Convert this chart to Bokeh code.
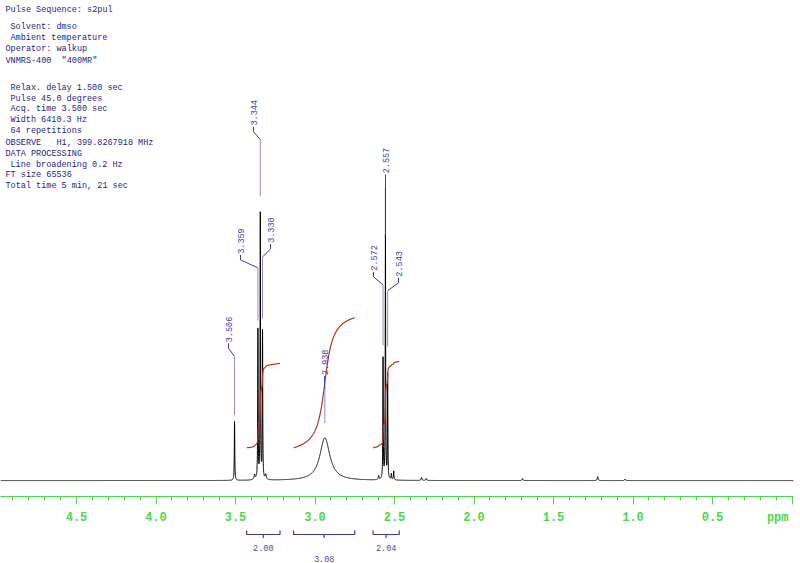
import numpy as np
from bokeh.plotting import figure
from bokeh.models import Range1d, FixedTicker, PrintfTickFormatter, LinearAxis
from bokeh.layouts import column
from bokeh.core.properties import value
from bokeh.embed import file_html
from bokeh.resources import INLINE

# ---------------- data ----------------
header_lines = [
    "Pulse Sequence: s2pul",
    "Solvent: dmso",
    "Ambient temperature",
    "Operator: walkup",
    "VNMRS-400\u00a0\u00a0\"400MR\"",
    "Relax. delay 1.500 sec",
    "Pulse 45.0 degrees",
    "Acq. time 3.500 sec",
    "Width 6410.3 Hz",
    "64 repetitions",
    "OBSERVE\u00a0\u00a0\u00a0H1, 399.8267918 MHz",
    "DATA PROCESSING",
    "Line broadening 0.2 Hz",
    "FT size 65536",
    "Total time 5 min, 21 sec",
]
header_indent = [0, 1, 1, 0, 0, 1, 1, 1, 1, 1, 0, 0, 1, 0, 0]

# peak list: position (ppm), height (arbitrary units), half width (ppm)
peak_ppm = [3.506, 3.380, 3.359, 3.344, 3.330, 3.310, 2.938, 2.600,
            2.572, 2.557, 2.543, 2.520, 2.505, 2.330, 2.300, 1.695, 1.222, 1.050]
peak_height = [60, 5, 150, 270, 150, 5, 43, 4,
               123, 245, 105, 6, 9, 3, 2, 2, 4, 1.5]
peak_hwhm = [0.0016, 0.004, 0.0015, 0.0015, 0.0015, 0.004, 0.038, 0.003,
             0.0015, 0.0015, 0.0015, 0.002, 0.002, 0.003, 0.003, 0.003, 0.003, 0.003]

label_texts = ["3.506", "3.359", "3.344", "3.330", "2.938", "2.572", "2.557", "2.543"]
label_peak_ppm = [3.506, 3.359, 3.344, 3.330, 2.938, 2.572, 2.557, 2.543]

integral_start = [3.43, 3.135, 2.635]
integral_end = [3.22, 2.75, 2.47]
integral_values = [2.00, 3.08, 2.04]

major_ticks = [4.5, 4.0, 3.5, 3.0, 2.5, 2.0, 1.5, 1.0, 0.5, 0.0]
minor_ticks = [round(0.1 * i, 1) for i in range(0, 50)]
unit_label_ppm = 0.09
unit_label = "ppm"

# ---------------- layout / style ----------------
W = 800
FRAME_RIGHT_PX = 793
FRAME_H = 499
AXIS_H = 28
H_TOP = FRAME_H + AXIS_H
H_BOT = 563 - H_TOP
PX_PER_PPM = 159.0
X_LEFT = 4.5 + 76 / PX_PER_PPM                       # ppm at page x = 0
X_RIGHT = X_LEFT - FRAME_RIGHT_PX / PX_PER_PPM        # ppm at frame right edge
Y_MAX = 483                                          # baseline at page y = 483
Y_MIN = Y_MAX - FRAME_H

GREEN = "#4cd64c"
NAVY = "#1e1e86"
BLUE = "#3b3bb5"
LAVENDER = "#8c8cd0"
RED = "#b8321f"
MONO = value("Liberation Mono")

def px_to_ppm(px):
    return X_LEFT - px / PX_PER_PPM

def px_to_y(py):
    return Y_MAX - py

# peak label layout (page px)
label_x_px = [228, 240, 253, 270, 324, 373, 385, 398]
label_cy_px = [331, 242, 113, 231, 364, 259, 161, 265]
leader_end = [66, 161, 286, 163, 58, 136, 245, 135]
leader_color = [LAVENDER, LAVENDER, LAVENDER, LAVENDER, LAVENDER, LAVENDER, NAVY, LAVENDER]

header_y_px = [10, 27, 38, 49, 61, 88, 99, 109, 120, 131, 143, 154, 165, 176, 187]

integral_base = 33
integral_scale = 42.5

# ---------------- spectrum ----------------
x = np.arange(X_RIGHT, X_LEFT, 0.0004)
spec = np.zeros_like(x)
for c, h, g in zip(peak_ppm, peak_height, peak_hwhm):
    spec += h * g * g / ((x - c) ** 2 + g * g)

p = figure(width=W, height=H_TOP, x_range=Range1d(X_LEFT, X_RIGHT),
           y_range=Range1d(Y_MIN, Y_MAX), output_backend="svg",
           toolbar_location=None, y_axis_type=None,
           min_border_left=0, min_border_right=W - FRAME_RIGHT_PX, min_border_top=0,
           min_border_bottom=AXIS_H)
p.xgrid.visible = False
p.ygrid.visible = False
p.outline_line_color = None
p.background_fill_color = "white"
p.border_fill_color = "white"

# axis 1: line and ticks only (labels not drawn)
ax = p.xaxis[0]
ax.ticker = FixedTicker(ticks=major_ticks, minor_ticks=minor_ticks)
ax.axis_line_color = GREEN
ax.major_tick_line_color = GREEN
ax.minor_tick_line_color = GREEN
ax.major_tick_in = 0
ax.major_tick_out = 8
ax.minor_tick_in = 0
ax.minor_tick_out = 4
ax.major_label_text_color = None
ax.major_label_text_font_size = "1px"
ax.major_label_standoff = 0

# axis 2: tick labels and unit
ax2 = LinearAxis(ticker=FixedTicker(ticks=major_ticks[:-1] + [unit_label_ppm], minor_ticks=[]),
                 formatter=PrintfTickFormatter(format="%.1f"),
                 major_label_overrides={unit_label_ppm: unit_label})
ax2.axis_line_color = None
ax2.major_tick_line_color = None
ax2.minor_tick_line_color = None
ax2.major_tick_in = 0
ax2.major_tick_out = 0
ax2.minor_tick_in = 0
ax2.minor_tick_out = 0
ax2.major_label_text_color = GREEN
ax2.major_label_text_font = "Liberation Mono"
ax2.major_label_text_font_size = "12px"
ax2.major_label_text_font_style = "bold"
ax2.major_label_standoff = 6
p.add_layout(ax2, "below")

# spectrum
p.line(x, spec, line_color="black", line_width=1)

# integrals
for s, e, v in zip(integral_start, integral_end, integral_values):
    m = (x <= s) & (x >= e)
    xs = x[m][::-1]
    ys = spec[m][::-1]
    cum = np.concatenate([[0.0], np.cumsum((ys[1:] + ys[:-1]) / 2 * np.abs(np.diff(xs)))])
    cum = cum / cum[-1] * v * integral_scale + integral_base
    p.line(xs, cum, line_color=RED, line_width=1.2)

# header text
hx = [px_to_ppm(5 + 5 * ind) for ind in header_indent]
hy = [px_to_y(py) for py in header_y_px]
p.text(x=hx, y=hy, text=header_lines, text_font=MONO, text_font_size="8.5px",
       text_color=NAVY, text_baseline="middle", text_align="left")

# peak labels + leaders
lx = [px_to_ppm(v) for v in label_x_px]
ly = [px_to_y(v) for v in label_cy_px]
p.text(x=lx, y=ly, text=label_texts, angle=np.pi / 2, text_font=MONO,
       text_font_size="8.5px", text_color=BLUE, text_align="center",
       text_baseline="middle")
kx, ky = [], []
for xl, yl, xp in zip(lx, ly, label_peak_ppm):
    y0 = yl - 14
    kx.append([xl, xl, xp])
    ky.append([y0, y0 - 5, y0 - 13])
p.multi_line(kx, ky, line_color=BLUE, line_width=1)
p.segment(x0=label_peak_ppm, y0=[yl - 27 for yl in ly], x1=label_peak_ppm,
          y1=leader_end, line_color=leader_color, line_width=1)

# ---------------- integral brackets ----------------
p2 = figure(width=W, height=H_BOT, x_range=p.x_range, y_range=Range1d(0, H_BOT),
            output_backend="svg", toolbar_location=None,
            x_axis_type=None, y_axis_type=None,
            min_border_left=0, min_border_right=W - FRAME_RIGHT_PX,
            min_border_top=0, min_border_bottom=0)
p2.xgrid.visible = False
p2.ygrid.visible = False
p2.outline_line_color = None

def py2(py):
    return 563 - py

bx, by, mids = [], [], []
for s, e in zip(integral_start, integral_end):
    mid = (s + e) / 2
    mids.append(mid)
    bx.append([s, s, e, e])
    by.append([py2(530), py2(534), py2(534), py2(530)])
p2.multi_line(bx, by, line_color="#3c3c96", line_width=1.2)
p2.segment(x0=mids, y0=[py2(534)] * 3, x1=mids, y1=[py2(537.5)] * 3,
           line_color="#3c3c96", line_width=1.2)
label_row_px = [547, 558, 547]
p2.text(x=mids, y=[py2(v) for v in label_row_px],
        text=["%.2f" % v for v in integral_values], text_font=MONO,
        text_font_size="8.5px", text_color="#4a4aa8", text_align="center",
        text_baseline="middle")

layout = column(p, p2, spacing=0)
open("out.html", "w").write(file_html(layout, INLINE))
